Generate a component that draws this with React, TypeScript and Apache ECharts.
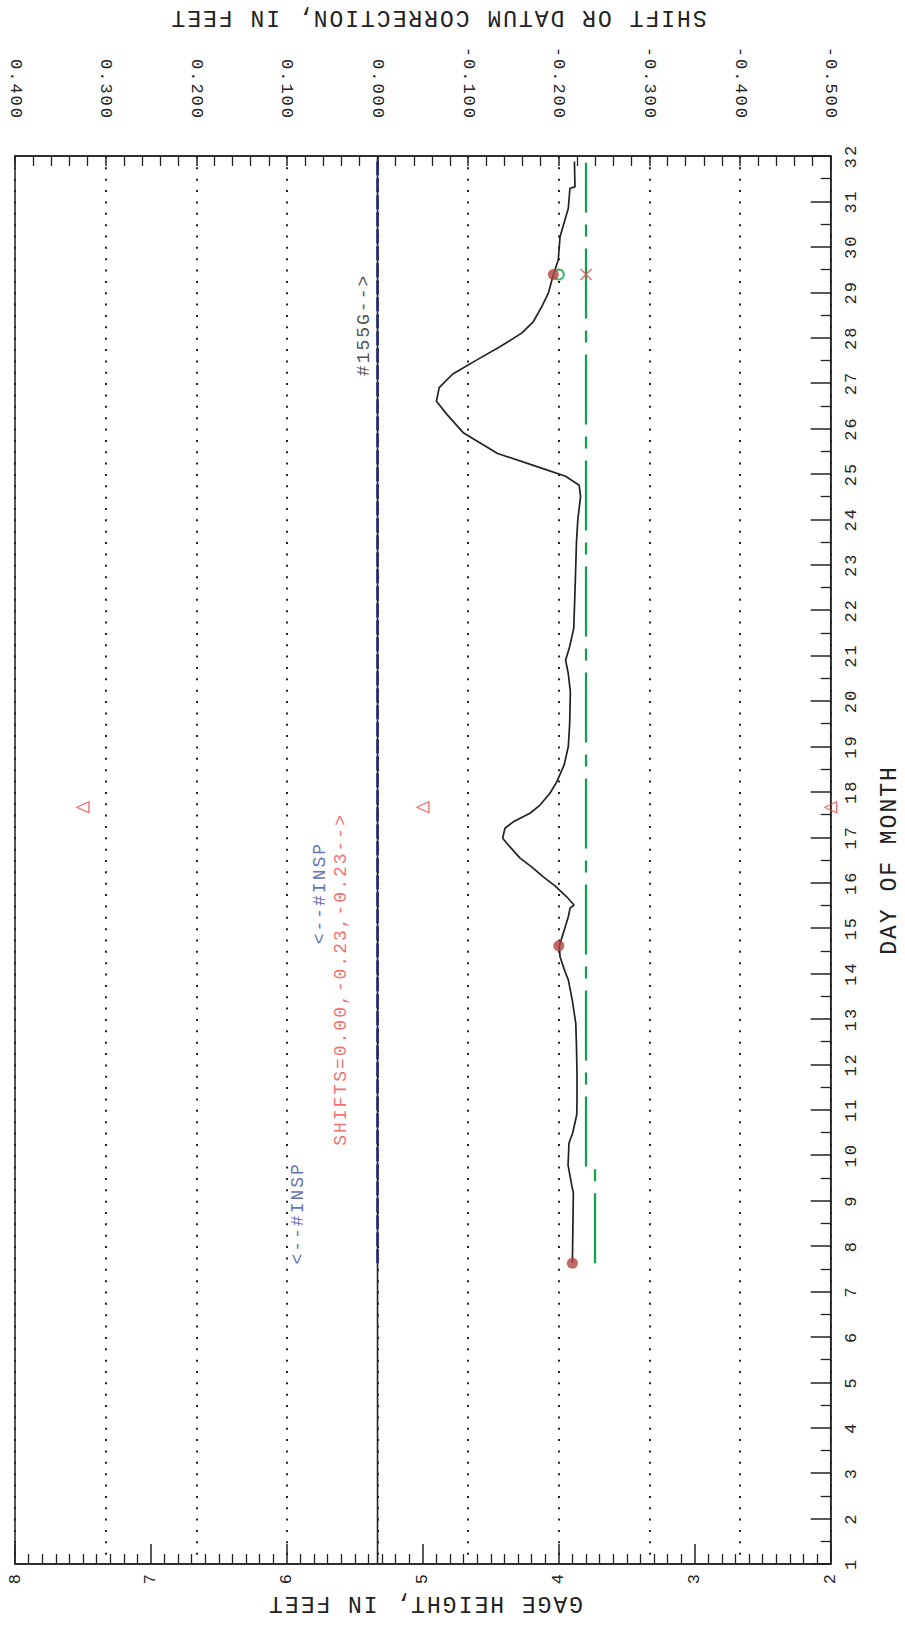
import React, { useEffect, useRef } from "react";
import * as echarts from "echarts";

// Axis ranges
const DAY_RANGE = [1, 32];
const GAGE_RANGE = [2, 8];
const SHIFT_RANGE = [-0.5, 0.4];

// Continuous gage-height record: [gage height (ft), day of month]
const gageHeight: [number, number][] = [
  [3.9, 7.62], [3.893, 9.17], [3.905, 9.34], [3.932, 9.78], [3.925, 10.27], [3.898, 10.49],
  [3.868, 10.89], [3.866, 11.22], [3.866, 11.8], [3.87, 12.4], [3.875, 12.9], [3.9, 13.4],
  [3.93, 13.86], [3.954, 14.04], [3.991, 14.37], [3.996, 14.61], [3.967, 14.89], [3.93, 15.25],
  [3.917, 15.44], [3.888, 15.51], [3.942, 15.69], [4.028, 15.93], [4.114, 16.13], [4.2, 16.35],
  [4.285, 16.54], [4.371, 16.83], [4.413, 16.98], [4.396, 17.2], [4.335, 17.34], [4.212, 17.53],
  [4.138, 17.71], [4.065, 17.97], [4.015, 18.22], [3.96, 18.6], [3.93, 19.0], [3.92, 19.5],
  [3.915, 20.2], [3.93, 20.6], [3.95, 20.9], [3.92, 21.2], [3.89, 21.6], [3.88, 22.5],
  [3.87, 23.5], [3.86, 24.0], [3.84, 24.5], [3.85, 24.75], [3.95, 24.95], [4.1, 25.1],
  [4.45, 25.45], [4.7, 25.9], [4.82, 26.3], [4.9, 26.6], [4.88, 26.9], [4.78, 27.2],
  [4.58, 27.55], [4.433, 27.8], [4.273, 28.1], [4.188, 28.35], [4.126, 28.68], [4.077, 28.98],
  [4.04, 29.39], [4.004, 29.71], [3.991, 30.22], [3.93, 30.85], [3.918, 31.29], [3.881, 31.32],
  [3.885, 31.88],
];

// Discharge measurements: [gage height (ft), day]
const measurements: [number, number][] = [
  [3.9, 7.62],
  [4.0, 14.61],
  [4.04, 29.39],
];

// Shift / datum correction curves: [shift (ft), day]
const zeroShift: [number, number][] = [
  [0, 1],
  [0, 32],
];
const datumCorrection: [number, number][] = [
  [0, 7.62],
  [0, 31.88],
];
const ratingShift: [number, number][] = [
  [-0.24, 7.62],
  [-0.24, 9.76],
  [-0.23, 9.76],
  [-0.23, 31.85],
];
const measuredShift: [number, number][] = [[-0.2, 29.39]];
const appliedShift: [number, number][] = [[-0.23, 29.39]];

// Peak markers: [gage height (ft), day]
const peakMarkers: [number, number][] = [
  [7.5, 17.66],
  [5.0, 17.66],
  [2.0, 17.66],
];

// Notes written on the plot, centred at [gage height, day]
const noteTexts = ["<--#INSP", "<--#INSP", "SHIFTS=0.00,-0.23,-0.23-->", "#155G-->"];
const noteAnchors: [number, number][] = [
  [5.92, 8.72],
  [5.76, 15.77],
  [5.6, 13.87],
  [5.43, 28.28],
];
const noteKinds = ["insp", "insp", "shift", "meas"];

// Axis titles
const shiftTitle = "SHIFT OR DATUM CORRECTION, IN FEET";
const gageTitle = "GAGE HEIGHT, IN FEET";
const dayTitle = "DAY OF MONTH";

const FONT = "'Liberation Mono', 'DejaVu Sans Mono', monospace";
const INK = "#222222";
const NOTE_COLORS: Record<string, string> = {
  insp: "#3d4a9e",
  shift: "#ee4a4f",
  meas: "#222222",
};

// Shift labels share one width so their far ends line up; non-negative
// values get a no-break space in the sign position.
const fmtShift = (v: number) => {
  const x = Math.abs(v) < 1e-9 ? 0 : v;
  const s = x.toFixed(3);
  return x < 0 ? s : "\u00a0" + s;
};

export default function App() {
  const ref = useRef<HTMLDivElement>(null);

  useEffect(() => {
    if (!ref.current) return;
    const chart = echarts.init(ref.current, undefined, { renderer: "svg" });

    const tickLine = { color: INK, width: 1.5 };
    const titleStyle = (text: string) => ({
      text,
      font: `23px ${FONT}`,
      fill: INK,
      textAlign: "center",
      textVerticalAlign: "middle",
      align: "center",
      verticalAlign: "middle",
    });

    const option: any = {
      animation: false,
      backgroundColor: "#ffffff",
      grid: {
        left: 15,
        right: 74.3,
        top: 156,
        bottom: 63,
        containLabel: false,
        outerBoundsMode: "none",
        show: true,
        borderColor: INK,
        borderWidth: 1.5,
        backgroundColor: "transparent",
      },
      xAxis: [
        {
          type: "value",
          min: GAGE_RANGE[0],
          max: GAGE_RANGE[1],
          interval: 1,
          inverse: true,
          position: "bottom",
          axisLine: { show: true, onZero: false, lineStyle: tickLine },
          axisTick: { show: true, inside: true, length: 20, lineStyle: tickLine },
          minorTick: { show: true, splitNumber: 10, length: 10, lineStyle: { color: INK, width: 1.3 } },
          axisLabel: { rotate: 90, margin: 8, fontSize: 17, fontFamily: FONT, color: INK },
          splitLine: { show: false },
          minorSplitLine: { show: false },
        },
        {
          type: "value",
          min: SHIFT_RANGE[0],
          max: SHIFT_RANGE[1],
          interval: 0.1,
          inverse: true,
          position: "top",
          axisLine: { show: true, onZero: false, lineStyle: tickLine },
          axisTick: { show: true, inside: true, length: 10, lineStyle: tickLine },
          minorTick: { show: true, splitNumber: 5, length: 10, lineStyle: { color: INK, width: 1.3 } },
          axisLabel: {
            rotate: 90,
            margin: 36,
            fontSize: 17,
            fontFamily: FONT,
            color: INK,
            formatter: fmtShift,
          },
          splitLine: { show: true, lineStyle: { color: INK, width: 2, type: [2, 9.355] } },
          minorSplitLine: { show: false },
        },
      ],
      yAxis: [
        {
          type: "value",
          min: DAY_RANGE[0],
          max: DAY_RANGE[1],
          interval: 1,
          position: "right",
          axisLine: { show: true, onZero: false, lineStyle: tickLine },
          axisTick: { show: true, inside: true, length: 20, lineStyle: tickLine },
          minorTick: { show: true, splitNumber: 2, length: 10, lineStyle: { color: INK, width: 1.3 } },
          axisLabel: { rotate: 90, margin: 12, fontSize: 17, fontFamily: FONT, color: INK },
          splitLine: { show: false },
          minorSplitLine: { show: false },
        },
      ],
      series: [
        {
          name: "zero shift",
          type: "line",
          xAxisIndex: 1,
          data: zeroShift,
          showSymbol: false,
          lineStyle: { color: INK, width: 1.6 },
          z: 2,
          silent: true,
        },
        {
          name: "datum correction",
          type: "line",
          xAxisIndex: 1,
          data: datumCorrection,
          showSymbol: false,
          lineStyle: { color: "#1e2878", width: 2.6, type: [14, 3] },
          z: 3,
          silent: true,
        },
        {
          name: "rating shift",
          type: "line",
          xAxisIndex: 1,
          data: ratingShift,
          showSymbol: false,
          lineStyle: { color: "#10a04a", width: 2.2, type: [70, 12, 12, 12] },
          z: 3,
          silent: true,
        },
        {
          name: "gage height",
          type: "line",
          xAxisIndex: 0,
          data: gageHeight,
          showSymbol: false,
          lineStyle: { color: "#222222", width: 1.7 },
          z: 4,
          silent: true,
        },
        {
          name: "measured shift",
          type: "scatter",
          xAxisIndex: 1,
          data: measuredShift,
          symbol: "emptyCircle",
          symbolSize: 10,
          itemStyle: { color: "#18a04c", borderWidth: 1.5 },
          z: 5,
          silent: true,
        },
        {
          name: "applied shift",
          type: "scatter",
          xAxisIndex: 1,
          data: appliedShift,
          symbol: "path://M0 0L10 10M10 0L0 10",
          symbolSize: 11,
          itemStyle: { color: "rgba(0,0,0,0)", borderColor: "#f04a4f", borderWidth: 1.5 },
          z: 5,
          silent: true,
        },
        {
          name: "measurements",
          type: "scatter",
          xAxisIndex: 0,
          data: measurements,
          symbol: "circle",
          symbolSize: 11,
          itemStyle: { color: "#b2433f" },
          z: 6,
          silent: true,
        },
        {
          name: "peaks",
          type: "scatter",
          xAxisIndex: 0,
          data: peakMarkers,
          symbol: "triangle",
          symbolRotate: 90,
          symbolSize: [11, 12],
          itemStyle: { color: "rgba(0,0,0,0)", borderColor: "#ee4a4f", borderWidth: 1.3 },
          z: 5,
          silent: true,
        },
        {
          name: "notes",
          type: "scatter",
          xAxisIndex: 0,
          data: noteTexts.map((t, i) => ({
            name: t,
            value: noteAnchors[i],
            label: { color: NOTE_COLORS[noteKinds[i]] },
          })),
          symbolSize: 1,
          itemStyle: { color: "rgba(0,0,0,0)" },
          label: {
            show: true,
            position: "inside",
            rotate: 90,
            align: "center",
            verticalAlign: "middle",
            formatter: "{b}",
            fontSize: 18,
            fontFamily: FONT,
          },
          z: 6,
          silent: true,
        },
      ],
      graphic: [
        { type: "text", x: 438, y: 17, rotation: Math.PI, style: titleStyle(shiftTitle) },
        { type: "text", x: 425, y: 1603, rotation: Math.PI, style: titleStyle(gageTitle) },
        { type: "text", x: 890, y: 860, rotation: Math.PI / 2, style: titleStyle(dayTitle) },
      ],
    };

    chart.setOption(option);
    return () => chart.dispose();
  }, []);

  return (
    <>
      <style>{`.gage-chart text { letter-spacing: 2px; }`}</style>
      <div
        ref={ref}
        className="gage-chart"
        style={{ position: "absolute", left: 0, top: 0, width: 905, height: 1627, background: "#fff" }}
      />
    </>
  );
}
